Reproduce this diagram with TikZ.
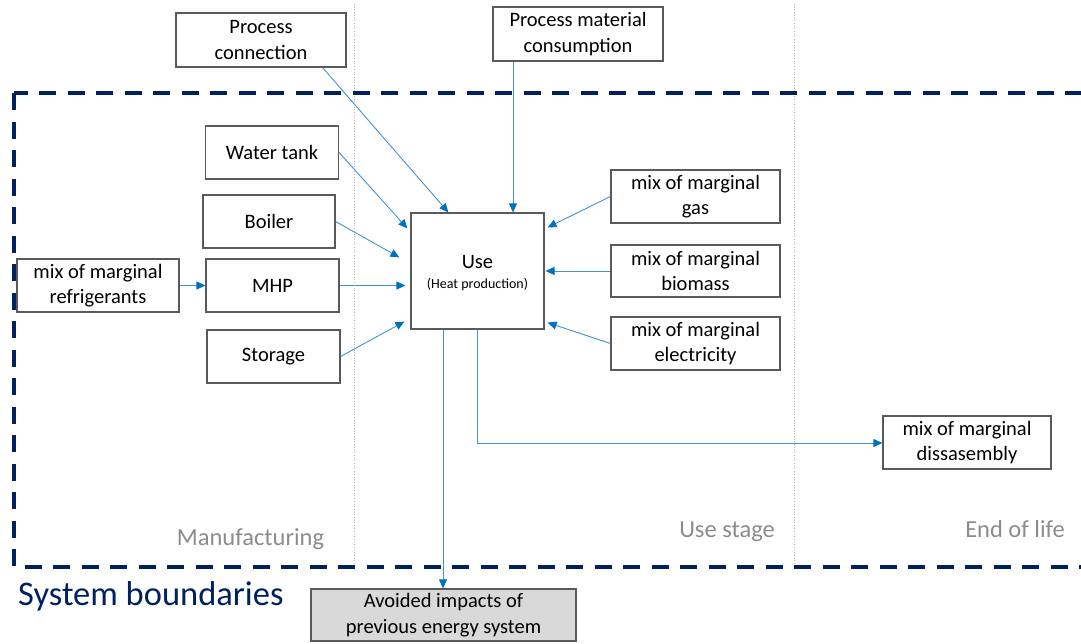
\documentclass[tikz,border=0pt]{standalone}
\usepackage{fontspec}
\setmainfont{Carlito}
\usetikzlibrary{arrows.meta,calc}
\definecolor{flowblue}{HTML}{4592D3}
\definecolor{headblue}{HTML}{0070C0}
\definecolor{boundblue}{HTML}{002060}
\definecolor{stagegray}{HTML}{8C8C8C}
\definecolor{boxgray}{HTML}{5A5A5A}
\definecolor{avoidfill}{HTML}{D9D9D9}

\begin{document}
\begin{tikzpicture}[x=1pt,y=-1pt,
    box/.style={draw=boxgray,line width=1.2pt,align=center,inner sep=0pt,
      font=\fontsize{20.5}{25.5}\selectfont},
    flow/.style={draw=flowblue,line width=0.9pt,
      -{Triangle[length=9pt,width=8pt,color=headblue]}},
    stage/.style={text=stagegray,anchor=base,font=\fontsize{24.5}{28}\selectfont}]
  \clip (0,0) rectangle (1081,643);
  % life cycle stages
  \draw[gray!55,dotted,line width=0.7pt] (354,4) -- (354,567);
  \draw[gray!55,dotted,line width=0.7pt] (794,4) -- (794,567);
  \draw[boundblue,line width=4pt,dash pattern=on 17pt off 11.5pt] (14,93) rectangle (1100,567);
  \node[stage] (manuf) at (250.5,545) {Manufacturing};
  \node[stage] (usest) at (727,537) {Use stage};
  \node[stage] (eol) at (1015,537) {End of life};
  \node[anchor=base west,inner sep=0pt,text=boundblue,font=\fontsize{34.5}{40}\selectfont] (sysb) at (18,605) {System boundaries};
  % boxes
  \node[box,minimum width=170pt,minimum height=54pt] (pconn) at (261,40) {Process\\connection};
  \node[box,minimum width=170pt,minimum height=54pt] (pmat) at (578,34) {Process material\\consumption};
  \node[box,minimum width=133pt,minimum height=53pt] (wtank) at (272,152.5) {Water tank};
  \node[box,minimum width=132pt,minimum height=53pt] (boiler) at (269,221.5) {Boiler};
  \node[box,minimum width=133pt,minimum height=53pt] (mhp) at (272.5,285.5) {MHP};
  \node[box,minimum width=162pt,minimum height=53pt] (refr) at (98,285.5) {mix of marginal\\refrigerants};
  \node[box,minimum width=133pt,minimum height=53pt] (stor) at (273.5,356.5) {Storage};
  \node[box,minimum width=133pt,minimum height=116pt,text height=40pt,text depth=5pt] (use) at (477.5,271)
    {Use\\[-5pt]{\fontsize{14}{17}\selectfont(Heat production)}};
  \node[box,minimum width=169pt,minimum height=53pt] (gas) at (695.5,196.5) {mix of marginal\\gas};
  \node[box,minimum width=169pt,minimum height=52pt] (bio) at (695.5,271) {mix of marginal\\biomass};
  \node[box,minimum width=169pt,minimum height=53pt] (elec) at (695.5,343.5) {mix of marginal\\electricity};
  \node[box,minimum width=168pt,minimum height=53pt] (diss) at (967,442.5) {mix of marginal\\dissasembly};
  \node[box,fill=avoidfill,minimum width=265pt,minimum height=52pt] (avoid) at (443.5,615) {Avoided impacts of\\previous energy system};
  % flows
  \draw[flow] ($(pconn.south east)+(-24,0)$) -- ($(use.north west)+(38,0)$);
  \draw[flow] (pmat.south -| 513,0) -- (use.north -| 513,0);
  \draw[flow] (wtank.east) -- ($(use.north west)+(-3,16)$);
  \draw[flow] (boiler.east) -- ($(use.north west)+(-11,45)$);
  \draw[flow] (refr.east) -- (mhp.west);
  \draw[flow] (mhp.east) -- ($(use.west |- mhp.east)+(-5,0)$);
  \draw[flow] (stor.east) -- ($(use.south west)+(-6,-8)$);
  \draw[flow] (gas.west) -- ($(use.north east)+(3,15)$);
  \draw[flow] (bio.west) -- ($(use.east |- bio.west)+(1,0)$);
  \draw[flow] (elec.west) -- ($(use.south east)+(3,-7)$);
  \draw[flow] (use.south -| 477,0) -- (477,443) -- (diss.west |- 0,443);
  \draw[flow] (use.south -| 443,0) -- (avoid.north -| 443,0);
\end{tikzpicture}
\end{document}
